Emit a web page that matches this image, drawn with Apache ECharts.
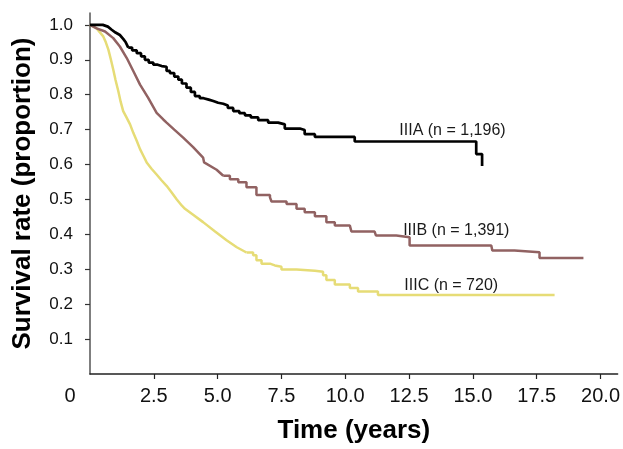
<!DOCTYPE html>
<html>
<head>
<meta charset="utf-8">
<script src="https://cdn.jsdelivr.net/npm/echarts@6/dist/echarts.min.js"></script>
<style>html,body{margin:0;padding:0;background:#fff;}#c{width:623px;height:449px;}</style>
</head>
<body>
<div id="c"></div>
<script>
// ---- data ----
var xTicks = [0, 2.5, 5, 7.5, 10, 12.5, 15, 17.5, 20];
var yTicks = [0.1, 0.2, 0.3, 0.4, 0.5, 0.6, 0.7, 0.8, 0.9, 1.0];

var seriesNames = ['IIIA (n = 1,196)', 'IIIB (n = 1,391)', 'IIIC (n = 720)'];

var survIIIA = [[0,1],[0.5,1],[0.7,0.995],[0.85,0.986],[1.0,0.978],[1.17,0.971],[1.3,0.960],[1.4,0.950],[1.5,0.935],[1.65,0.927],[1.83,0.919],[2.0,0.910],[2.15,0.900],[2.3,0.892],[2.48,0.886],[2.65,0.882],[2.81,0.880],[3.0,0.868],[3.13,0.862],[3.3,0.852],[3.46,0.843],[3.6,0.832],[3.78,0.820],[3.95,0.808],[4.11,0.796],[4.3,0.790],[4.45,0.786],[4.65,0.782],[4.83,0.777],[5.02,0.774],[5.22,0.769],[5.4,0.762],[5.61,0.753],[5.85,0.747],[6.07,0.741],[6.3,0.735],[6.59,0.727],[6.98,0.720],[7.37,0.715],[7.63,0.703],[8.22,0.699],[8.41,0.687],[8.81,0.679],[10.37,0.666],[15.13,0.630],[15.36,0.596]];

var survIIIB = [[0,1],[0.26,0.99],[0.59,0.981],[0.91,0.962],[1.17,0.938],[1.44,0.905],[1.70,0.867],[1.96,0.829],[2.28,0.791],[2.61,0.748],[2.87,0.729],[3.0,0.72],[3.3,0.700],[3.65,0.677],[4.04,0.650],[4.43,0.620],[4.47,0.606],[4.96,0.585],[5.22,0.568],[5.48,0.558],[5.81,0.549],[6.13,0.535],[6.52,0.513],[7.05,0.506],[7.11,0.494],[7.70,0.487],[8.09,0.473],[8.41,0.463],[8.81,0.452],[9.26,0.435],[9.59,0.425],[10.18,0.421],[10.24,0.408],[11.15,0.406],[11.2,0.397],[12.0,0.392],[12.52,0.368],[15.72,0.368],[15.76,0.354],[16.63,0.349],[17.61,0.332],[19.33,0.332]];

var survIIIC = [[0,1],[0.26,0.99],[0.52,0.967],[0.62,0.95],[0.72,0.929],[0.82,0.90],[0.91,0.872],[1.0,0.842],[1.11,0.810],[1.2,0.780],[1.30,0.753],[1.43,0.735],[1.57,0.715],[1.70,0.690],[1.83,0.668],[1.96,0.644],[2.09,0.625],[2.22,0.606],[2.41,0.588],[2.6,0.572],[2.8,0.555],[3.0,0.539],[3.2,0.520],[3.4,0.500],[3.6,0.482],[3.72,0.473],[4.0,0.458],[4.43,0.435],[4.9,0.408],[5.35,0.383],[5.75,0.363],[6.13,0.348],[6.39,0.340],[6.52,0.326],[6.72,0.316],[7.05,0.311],[7.24,0.307],[7.50,0.299],[8.09,0.296],[8.81,0.293],[9.13,0.283],[9.26,0.269],[9.59,0.256],[10.18,0.246],[10.5,0.236],[11.28,0.226],[18.2,0.226]];

// where each curve turns from a smooth decline into visible steps
var stepFrom = [1.5, 5.22, 6.13];
// label anchor points (data coordinates)
var labelPos = [[14.2, 0.697], [14.35, 0.411], [14.15, 0.254]];

// ---- chart ----
var colors = ['#000000', '#916262', '#e6dc76'];
var widths = [2.7, 2.5, 2.5];
var FONT = 'Liberation Sans, Arial, Helvetica, sans-serif';

function buildSeries(i, data) {
  var out = [];
  var s = stepFrom[i];
  var smooth = data.filter(function (p) { return p[0] <= s; });
  var steps = data.filter(function (p) { return p[0] >= s; });
  var base = {
    type: 'line', showSymbol: false, symbol: 'none', silent: true,
    lineStyle: { color: colors[i], width: widths[i] },
    itemStyle: { color: colors[i] }, z: 3 - i
  };
  if (smooth.length > 1) {
    out.push(Object.assign({}, base, { name: seriesNames[i] + ' a', data: smooth, step: false }));
  }
  out.push(Object.assign({}, base, {
    name: seriesNames[i], data: steps, step: 'end',
    markPoint: {
      symbol: 'circle', symbolSize: 1, silent: true,
      itemStyle: { color: 'rgba(0,0,0,0)' },
      label: { show: true, position: 'inside', formatter: seriesNames[i], color: '#1a1a1a', fontSize: 16, fontFamily: FONT },
      data: [{ coord: labelPos[i] }]
    }
  }));
  return out;
}

var series = [].concat(buildSeries(0, survIIIA), buildSeries(1, survIIIB), buildSeries(2, survIIIC));

var chart = echarts.init(document.getElementById('c'), null, { renderer: 'canvas' });
chart.setOption({
  animation: false,
  backgroundColor: '#ffffff',
  grid: { left: 90, right: 5, top: 13, bottom: 72, containLabel: false },
  xAxis: {
    type: 'value', min: 0, max: 20.67,
    name: 'Time (years)', nameLocation: 'middle', nameGap: 44,
    nameTextStyle: { fontSize: 26, fontWeight: 'bold', color: '#000', fontFamily: FONT },
    axisLine: { show: true, onZero: false, lineStyle: { color: '#222', width: 1.5 } },
    axisTick: { show: true, inside: false, length: 5, customValues: xTicks.slice(1), lineStyle: { color: '#222', width: 1.2 } },
    axisLabel: {
      show: true, margin: 12, fontSize: 20, color: '#111', fontFamily: FONT,
      customValues: xTicks,
      formatter: function (v) { return v === 0 ? '{z|0}' : v.toFixed(1); },
      rich: { z: { fontSize: 20, color: '#111', fontFamily: FONT, padding: [0, 40, 0, 0] } }
    },
    splitLine: { show: false }
  },
  yAxis: {
    type: 'value', min: 0, max: 1.034,
    name: 'Survival rate (proportion)', nameLocation: 'middle', nameGap: 54,
    nameTextStyle: { fontSize: 26, fontWeight: 'bold', color: '#000', fontFamily: FONT },
    axisLine: { show: true, lineStyle: { color: '#555', width: 1.5 } },
    axisTick: { show: true, inside: false, length: 5, customValues: yTicks, lineStyle: { color: '#333', width: 1.2 } },
    axisLabel: {
      show: true, margin: 17, fontSize: 17, color: '#111', fontFamily: FONT,
      customValues: yTicks,
      formatter: function (v) { return v.toFixed(1); }
    },
    splitLine: { show: false }
  },
  series: series
});
</script>
</body>
</html>
